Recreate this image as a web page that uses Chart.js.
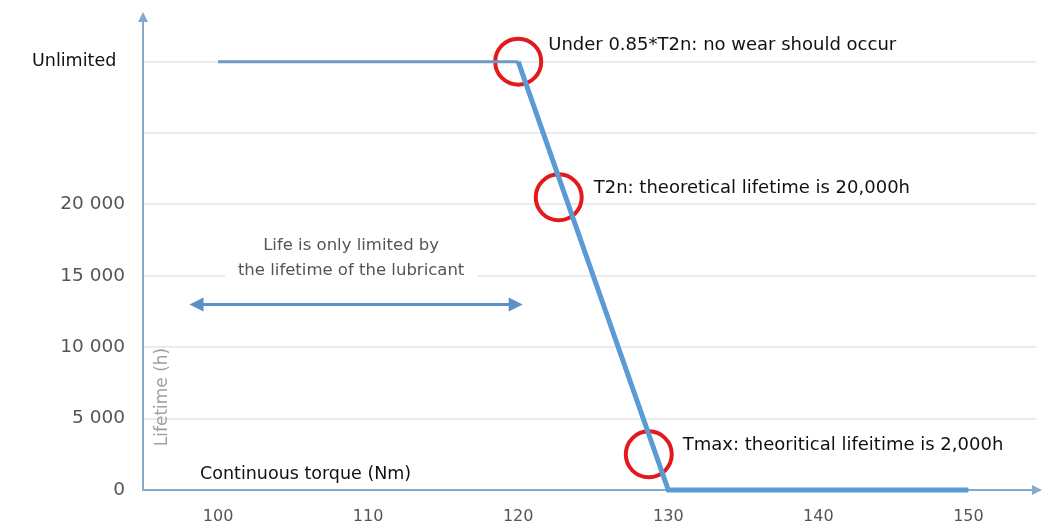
<!DOCTYPE html>
<html>
<head>
<meta charset="utf-8">
<script src="https://cdn.jsdelivr.net/npm/chart.js@4.4.1/dist/chart.umd.min.js"></script>
<style>
  html, body { margin: 0; padding: 0; background: #fff; }
  #wrap { width: 1044px; height: 524px; }
</style>
</head>
<body>
<div id="wrap"><canvas id="lifeChart" width="1044" height="524"></canvas></div>
<script>
// lifetime curve: continuous torque (Nm) against lifetime (h), 30000 stands for "Unlimited"
const torque = [100, 120, 130, 150];
const lifetime = [30000, 30000, 0, 0];

// marked points on the curve and their notes
const markerTorque = [120, 122.7, 128.7];
const markerLifetime = [30000, 20500, 2500];
const markerNotes = [
    'Under 0.85*T2n: no wear should occur',
    'T2n: theoretical lifetime is 20,000h',
    'Tmax: theoritical lifeitime is 2,000h'
];

// axis ticks
const xTickValues = [100, 110, 120, 130, 140, 150];
const xTickLabels = ['100', '110', '120', '130', '140', '150'];
const yTickValues = [0, 5000, 10000, 15000, 20000, 25000, 30000];
const yTickLabels = ['0', '5 000', '10 000', '15 000', '20 000', '', 'Unlimited\u2002'];

// range where only the lubricant limits life
const lubricantRange = [98.1, 120.3];
const lubricantLevel = 13000;
const lubricantText = ['Life is only limited by', 'the lifetime of the lubricant'];

const FONT = '"DejaVu Sans", sans-serif';
const BLUE = '#5b9bd5';
const AXIS = '#86aacb';

function arrowHead(ctx, x, y, angle, size) {
    ctx.save();
    ctx.translate(x, y);
    ctx.rotate(angle);
    ctx.beginPath();
    ctx.moveTo(0, 0);
    ctx.lineTo(-size, -size * 0.5);
    ctx.lineTo(-size, size * 0.5);
    ctx.closePath();
    ctx.fill();
    ctx.restore();
}

const decorations = {
    id: 'decorations',
    beforeDatasetsDraw(chart) {
        const { ctx, chartArea: area, scales: { x, y } } = chart;
        const x0 = x.getPixelForValue(lubricantRange[0]);
        const x1 = x.getPixelForValue(lubricantRange[1]);
        const cx = (x0 + x1) / 2 - 5;
        const ay = y.getPixelForValue(lubricantLevel);

        ctx.save();
        // white panel behind the lubricant note
        ctx.font = '16.5px ' + FONT;
        const w = Math.max(...lubricantText.map(t => ctx.measureText(t).width)) + 26;
        ctx.fillStyle = '#fff';
        ctx.fillRect(cx - w / 2, ay - 86, w, 66);
        ctx.fillStyle = '#555';
        ctx.textAlign = 'center';
        ctx.textBaseline = 'middle';
        ctx.fillText(lubricantText[0], cx, ay - 59);
        ctx.fillText(lubricantText[1], cx, ay - 34);

        // double arrow over the lubricant range
        ctx.strokeStyle = '#5b8fc9';
        ctx.fillStyle = '#5b8fc9';
        ctx.lineWidth = 3;
        ctx.beginPath();
        ctx.moveTo(x0 + 8, ay);
        ctx.lineTo(x1 - 8, ay);
        ctx.stroke();
        arrowHead(ctx, x0, ay, Math.PI, 14);
        arrowHead(ctx, x1, ay, 0, 14);

        // axis titles sit inside the plot
        ctx.fillStyle = '#111';
        ctx.font = '17.5px ' + FONT;
        ctx.textAlign = 'left';
        ctx.fillText('Continuous torque (Nm)', area.left + 57, area.bottom - 16);

        ctx.save();
        ctx.translate(area.left + 20, area.bottom - 93);
        ctx.rotate(-Math.PI / 2);
        ctx.fillStyle = '#a0a0a0';
        ctx.font = '17px ' + FONT;
        ctx.textAlign = 'center';
        ctx.fillText('Lifetime (h)', 0, 0);
        ctx.restore();
        ctx.restore();
    },
    afterDraw(chart) {
        const { ctx, chartArea: area, scales: { x, y } } = chart;
        ctx.save();
        // axis arrows
        ctx.strokeStyle = AXIS;
        ctx.fillStyle = AXIS;
        ctx.lineWidth = 2;
        ctx.beginPath();
        ctx.moveTo(area.left, area.top);
        ctx.lineTo(area.left, area.top - 8);
        ctx.moveTo(area.right, area.bottom);
        ctx.lineTo(area.right + 2, area.bottom);
        ctx.stroke();
        arrowHead(ctx, area.left, area.top - 14, -Math.PI / 2, 10);
        arrowHead(ctx, area.right + 6, area.bottom, 0, 10);

        // notes next to the marked points
        const offsets = [[30, -16], [35, -9], [34, -9]];
        ctx.fillStyle = '#111';
        ctx.font = '18px ' + FONT;
        ctx.textAlign = 'left';
        ctx.textBaseline = 'middle';
        markerNotes.forEach((note, i) => {
            const px = x.getPixelForValue(markerTorque[i]) + offsets[i][0];
            const py = y.getPixelForValue(markerLifetime[i]) + offsets[i][1];
            ctx.fillText(note, px, py);
        });
        ctx.restore();
    }
};

const ctx = document.getElementById('lifeChart').getContext('2d');

new Chart(ctx, {
    type: 'line',
    data: {
        datasets: [{
            label: 'Lifetime',
            data: torque.map((t, i) => ({ x: t, y: lifetime[i] })),
            borderColor: BLUE,
            borderWidth: 5,
            pointRadius: 0,
            tension: 0,
            clip: false,
            segment: {
                borderColor: c => c.p0DataIndex === 0 ? '#6f98c2' : BLUE,
                borderWidth: c => c.p0DataIndex === 0 ? 3 : 5
            }
        }, {
            label: 'Markers',
            data: markerTorque.map((t, i) => ({ x: t, y: markerLifetime[i] })),
            showLine: false,
            pointRadius: 23,
            pointBorderWidth: 4,
            pointBorderColor: '#e3191c',
            pointBackgroundColor: 'rgba(0,0,0,0)',
            clip: false
        }]
    },
    options: {
        responsive: false,
        animation: false,
        events: [],
        layout: { autoPadding: false, padding: { top: 26, right: 8 } },
        plugins: {
            legend: { display: false },
            tooltip: { enabled: false }
        },
        scales: {
            x: {
                type: 'linear',
                min: 95,
                max: 154.5,
                afterBuildTicks: scale => { scale.ticks = xTickValues.map(v => ({ value: v })); },
                afterFit: scale => {
                    scale.height = 34;
                    scale.paddingLeft = 0;
                    scale.paddingRight = 0;
                },
                grid: { display: false, drawTicks: false },
                border: { color: AXIS, width: 2 },
                ticks: {
                    padding: 17,
                    color: '#555',
                    font: { family: FONT, size: 16 },
                    maxRotation: 0,
                    callback: v => xTickLabels[xTickValues.indexOf(v)]
                }
            },
            y: {
                min: 0,
                max: 32500,
                afterBuildTicks: scale => { scale.ticks = yTickValues.map(v => ({ value: v })); },
                afterFit: scale => {
                    scale.width = 143;
                    scale.paddingTop = 0;
                    scale.paddingBottom = 0;
                },
                grid: { color: '#ebebeb', lineWidth: 2, drawTicks: false },
                border: { color: AXIS, width: 2 },
                ticks: {
                    padding: 18,
                    color: c => c.tick && c.tick.value === 30000 ? '#111' : '#555',
                    font: c => ({ family: FONT, size: c.tick && c.tick.value === 30000 ? 17.5 : 18.5 }),
                    callback: v => yTickLabels[yTickValues.indexOf(v)]
                }
            }
        }
    },
    plugins: [decorations]
});
</script>
</body>
</html>
